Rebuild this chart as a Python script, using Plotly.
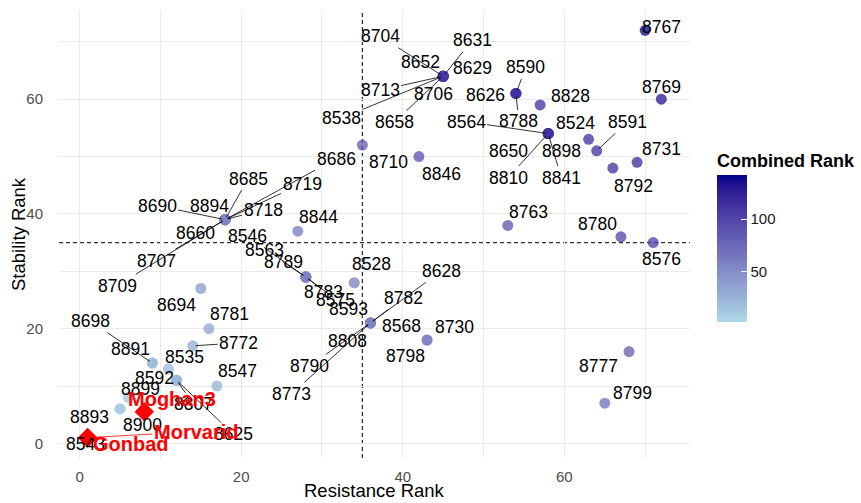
import plotly.graph_objects as go

# ---- genotype ranks -------------------------------------------------------
genotypes = [
    "8704", "8652", "8631", "8629", "8713", "8706", "8538", "8658",
    "8590", "8626", "8788", "8828",
    "8564", "8650", "8810", "8898", "8841",
    "8524", "8591", "8792", "8731", "8767", "8769",
    "8710", "8846", "8763", "8780", "8576", "8777", "8799",
    "8685", "8719", "8686", "8690", "8894", "8718", "8660", "8707", "8709",
    "8844",
    "8546", "8563", "8789", "8783", "8575", "8593",
    "8528",
    "8782", "8628", "8568", "8808", "8790", "8773",
    "8730", "8798",
    "8694", "8781", "8772", "8698", "8891", "8535", "8592", "8807", "8625", "8547",
    "8893", "8900", "8899", "8543",
]
resistance_rank = [
    45, 45, 45, 45, 45, 45, 45, 45,
    54, 54, 54, 57,
    58, 58, 58, 58, 58,
    63, 64, 66, 69, 70, 72,
    35, 42, 53, 67, 71, 68, 65,
    18, 18, 18, 18, 18, 18, 18, 18, 18,
    27,
    28, 28, 28, 28, 28, 28,
    34,
    36, 36, 36, 36, 36, 36,
    43, 43,
    15, 16, 14, 9, 9, 11, 12, 12, 12, 17,
    5, 5, 6, 1,
]
stability_rank = [
    64, 64, 64, 64, 64, 64, 64, 64,
    61, 61, 61, 59,
    54, 54, 54, 54, 54,
    53, 51, 48, 49, 72, 60,
    52, 50, 38, 36, 35, 16, 7,
    39, 39, 39, 39, 39, 39, 39, 39, 39,
    37,
    29, 29, 29, 29, 29, 29,
    28,
    21, 21, 21, 21, 21, 21,
    18, 18,
    27, 20, 17, 14, 14, 13, 11, 11, 11, 10,
    6, 6, 8, 1,
]
combined_rank = [
    109, 109, 109, 109, 109, 109, 109, 109,
    115, 115, 115, 116,
    112, 112, 112, 112, 112,
    116, 115, 114, 118, 142, 132,
    87, 92, 91, 103, 106, 84, 72,
    57, 57, 57, 57, 57, 57, 57, 57, 57,
    64,
    57, 57, 57, 57, 57, 57,
    62,
    57, 57, 57, 57, 57, 57,
    61, 61,
    42, 36, 31, 23, 23, 24, 23, 23, 23, 27,
    11, 11, 14, 2,
]
colorbar_ticks = [50, 100]

# ---- highlighted cultivars ------------------------------------------------
check_names = ["Moghan3", "Morvarid", "Gonbad"]
check_resistance = [8, 1, 1]
check_stability = [5.5, 1, 1]

# ---- label placement (pixel offsets from each point, connector flag) ------
label_offsets = {
    "8704": (-63, -40, True), "8652": (-23, -14, True), "8631": (29, -36, True),
    "8629": (29, -8, False), "8713": (-63, 14, True), "8706": (-10, 18, False),
    "8538": (-102, 42, True), "8658": (-49, 46, True),
    "8590": (10, -26, True), "8626": (-30, 2, False), "8788": (3, 28, True),
    "8828": (30, -9, False),
    "8564": (-82, -12, True), "8650": (-40, 17, False), "8810": (-40, 44, True),
    "8898": (13, 17, False), "8841": (13, 44, True),
    "8524": (-13, -16, False), "8591": (31, -29, True), "8792": (21, 18, False),
    "8731": (24, -13, False), "8767": (16, -3, False), "8769": (0, -12, False),
    "8710": (26, 17, False), "8846": (23, 17, False), "8763": (21, -13, False),
    "8780": (-23, -13, False), "8576": (8, 16, False), "8777": (-31, 14, False),
    "8799": (28, -10, False),
    "8685": (23, -41, True), "8719": (77, -36, True), "8686": (111, -61, True),
    "8690": (-68, -14, True), "8894": (-16, -14, False), "8718": (38, -10, True),
    "8660": (-30, 13, False), "8707": (-69, 41, True), "8709": (-108, 66, True),
    "8844": (21, -14, False),
    "8546": (-58, -41, True), "8563": (-41, -27, True), "8789": (-22, -15, False),
    "8783": (18, 15, False), "8575": (30, 23, True), "8593": (43, 32, True),
    "8528": (17, -19, False),
    "8782": (33, -25, True), "8628": (71, -52, True), "8568": (31, 3, False),
    "8808": (-23, 18, False), "8790": (-61, 43, True), "8773": (-79, 71, True),
    "8730": (27, -13, False), "8798": (-22, 16, False),
    "8694": (-24, 17, False), "8781": (21, -15, False), "8772": (46, -3, True),
    "8698": (-62, -42, True), "8891": (-22, -14, False), "8535": (16, -12, False),
    "8592": (-22, -2, False), "8807": (17, 24, True), "8625": (57, 54, True),
    "8547": (21, -15, False),
    "8893": (-31, 8, False), "8900": (22, 16, False), "8899": (12, -8, False),
    "8543": (-2, 6, False),
}
check_offsets = {
    "Moghan3": (28, -13, False),
    "Morvarid": (108, -6, True),
    "Gonbad": (43, 6, False),
}


# ---- light blue -> dark blue gradient interpolated in CIE Lab -------------
def _to_lin(c):
    c /= 255.0
    return c / 12.92 if c <= 0.04045 else ((c + 0.055) / 1.055) ** 2.4


def _from_lin(c):
    c = max(0.0, min(1.0, c))
    v = 12.92 * c if c <= 0.0031308 else 1.055 * c ** (1 / 2.4) - 0.055
    return int(round(max(0.0, min(1.0, v)) * 255))


WHITE = (0.95047, 1.0, 1.08883)


def hex_to_lab(h):
    r, g, b = (_to_lin(int(h[i:i + 2], 16)) for i in (1, 3, 5))
    X = 0.4124 * r + 0.3576 * g + 0.1805 * b
    Y = 0.2126 * r + 0.7152 * g + 0.0722 * b
    Z = 0.0193 * r + 0.1192 * g + 0.9505 * b
    f = lambda t: t ** (1 / 3) if t > 0.008856 else 7.787 * t + 16 / 116
    fx, fy, fz = f(X / WHITE[0]), f(Y / WHITE[1]), f(Z / WHITE[2])
    return 116 * fy - 16, 500 * (fx - fy), 200 * (fy - fz)


def lab_to_hex(L, a, b):
    fy = (L + 16) / 116
    fx, fz = fy + a / 500, fy - b / 200
    finv = lambda t: t ** 3 if t ** 3 > 0.008856 else (t - 16 / 116) / 7.787
    X, Y, Z = finv(fx) * WHITE[0], finv(fy) * WHITE[1], finv(fz) * WHITE[2]
    r = 3.2406 * X - 1.5372 * Y - 0.4986 * Z
    g = -0.9689 * X + 1.8758 * Y + 0.0415 * Z
    bl = 0.0557 * X - 0.2040 * Y + 1.0570 * Z
    return "#%02x%02x%02x" % (_from_lin(r), _from_lin(g), _from_lin(bl))


low, high = hex_to_lab("#ADD8E6"), hex_to_lab("#00008B")
n_stops = 21
colorscale = []
for i in range(n_stops):
    t = i / (n_stops - 1)
    lab = [lo + (hi - lo) * t for lo, hi in zip(low, high)]
    colorscale.append([t, lab_to_hex(*lab)])

FONT = "Liberation Sans, Arial, sans-serif"

# figure geometry (pixels)
W, H = 861, 503
M_L, M_R, M_T, M_B = 59, 171, 10, 45
PLOT_W, PLOT_H = W - M_L - M_R, H - M_T - M_B
C_MIN, C_MAX = 2, 142
BAR_LEFT, BAR_TOP, BAR_BOTTOM, BAR_THICK = 717, 175, 322, 30
TITLE_ROOM = 25

cb_x = (BAR_LEFT - M_L) / PLOT_W
cb_len = BAR_BOTTOM - BAR_TOP + TITLE_ROOM
cb_y = (M_T + PLOT_H - (BAR_TOP - TITLE_ROOM + BAR_BOTTOM) / 2) / PLOT_H

fig = go.Figure()

fig.add_trace(go.Scatter(
    x=resistance_rank, y=stability_rank, mode="markers",
    text=genotypes, hoverinfo="text",
    marker=dict(
        size=11, color=combined_rank, colorscale=colorscale,
        cmin=C_MIN, cmax=C_MAX, opacity=0.75, line=dict(width=0),
        showscale=True,
        colorbar=dict(
            title=dict(text="<b>Combined Rank</b>", side="top",
                       font=dict(size=18, color="#000000", family=FONT)),
            x=cb_x, xanchor="left", y=cb_y, yanchor="middle",
            len=cb_len, lenmode="pixels", thickness=BAR_THICK,
            thicknessmode="pixels",
            outlinewidth=0, xpad=0, ypad=0,
            tickvals=colorbar_ticks, ticks="inside", ticklen=6,
            tickcolor="white", tickwidth=1.2, tickprefix=" ",
            tickfont=dict(size=15, color="#1a1a1a", family=FONT),
        ),
    ),
    showlegend=False,
))

fig.add_trace(go.Scatter(
    x=check_resistance, y=check_stability, mode="markers",
    text=check_names, hoverinfo="text",
    marker=dict(symbol="diamond", size=15, color="#FF0000", line=dict(width=0)),
    showlegend=False,
))

annotations = []


def add_label(name, x, y, offset, font):
    dx, dy, connector = offset
    if connector:
        annotations.append(dict(
            x=x, y=y, text=name, showarrow=True, ax=dx, ay=dy,
            arrowhead=0, arrowwidth=0.8, arrowcolor=font["color"],
            standoff=3, font=font,
        ))
    else:
        annotations.append(dict(
            x=x, y=y, text=name, showarrow=False,
            xshift=dx, yshift=-dy, xanchor="center", yanchor="middle",
            font=font,
        ))


label_font = dict(size=17.5, color="#000000", family=FONT)
for name, xv, yv in zip(genotypes, resistance_rank, stability_rank):
    add_label(name, xv, yv, label_offsets[name], label_font)

for name, xv, yv in zip(check_names, check_resistance, check_stability):
    add_label("<b>%s</b>" % name, xv, yv, check_offsets[name],
              dict(size=20, color="#FF0000", family=FONT))

# axis titles
title_font = dict(size=18.5, color="#000000", family=FONT)
annotations.append(dict(
    text="Resistance Rank", xref="paper", yref="paper",
    x=0.5, y=(M_T + PLOT_H - 491) / PLOT_H, showarrow=False,
    xanchor="center", yanchor="middle", font=title_font,
))
annotations.append(dict(
    text="Stability Rank", xref="paper", yref="paper",
    x=(18 - M_L) / PLOT_W, y=0.5, showarrow=False, textangle=-90,
    xanchor="center", yanchor="middle", font=title_font,
))

grid = "#EBEBEB"
axis_common = dict(
    showgrid=True, gridcolor=grid, gridwidth=1.4,
    zeroline=False, showline=False, ticks="",
    tickfont=dict(size=15, color="#4D4D4D", family=FONT),
    minor=dict(tickvals=[10, 30, 50, 70], showgrid=True,
               gridcolor=grid, gridwidth=0.7),
    tickvals=[0, 20, 40, 60],
)

# white tick dashes on the left edge of the colour bar
bar_shapes = []
for v in colorbar_ticks:
    py = BAR_BOTTOM - (v - C_MIN) * (BAR_BOTTOM - BAR_TOP) / (C_MAX - C_MIN)
    yp = (M_T + PLOT_H - py) / PLOT_H
    bar_shapes.append(dict(
        type="line", xref="paper", yref="paper",
        x0=cb_x, x1=cb_x + 6 / PLOT_W, y0=yp, y1=yp,
        line=dict(color="white", width=1.2), layer="above",
    ))

fig.update_layout(
    width=W, height=H,
    margin=dict(l=M_L, r=M_R, t=M_T, b=M_B, autoexpand=False),
    paper_bgcolor="white", plot_bgcolor="white",
    font=dict(family=FONT),
    xaxis=dict(range=[-2.55, 75.55], automargin=False, ticklabelstandoff=8,
               **axis_common),
    yaxis=dict(range=[-2.55, 75.55], automargin=False, ticklabelstandoff=15,
               **axis_common),
    shapes=[
        dict(type="line", xref="x", yref="paper", x0=35, x1=35, y0=0, y1=1,
             line=dict(color="#333333", width=1.3, dash="4px,3px"), layer="below"),
        dict(type="line", xref="paper", yref="y", x0=0, x1=1, y0=35, y1=35,
             line=dict(color="#333333", width=1.3, dash="4px,3px"), layer="below"),
    ] + bar_shapes,
    annotations=annotations,
)

fig.write_html("out.html")
